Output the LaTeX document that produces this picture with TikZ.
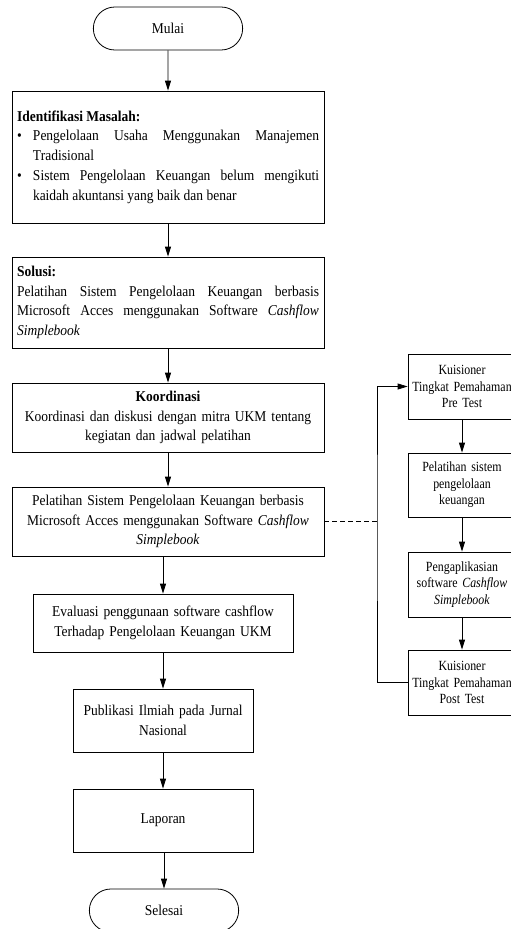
\documentclass[tikz,border=0pt]{standalone}
\usepackage{fontspec}
\setmainfont[FakeStretch=0.9]{Liberation Serif}
\newfontfamily\narrowfont[FakeStretch=0.85]{Liberation Serif}
\usetikzlibrary{arrows.meta,shapes.misc}
\setlength{\parindent}{0pt}
\hyphenpenalty=10000
\exhyphenpenalty=10000

\begin{document}
\begin{tikzpicture}[x=1pt,y=-1pt,
        terminal/.style={rounded rectangle, draw, line width=0.8pt, minimum width=156pt, minimum height=43pt, font=\fontsize{15}{19.7}\selectfont},
        process/.style={rectangle, draw, line width=0.8pt, inner sep=5pt, font=\fontsize{15}{19.7}\selectfont},
        stepbox/.style={rectangle, draw, line width=0.8pt, inner sep=4pt, text width=100pt, align=center, font=\narrowfont\fontsize{14}{16.5}\selectfont},
        arrow/.style={-{Triangle[length=10pt,width=6pt]}, line width=0.8pt},
        loopline/.style={line width=0.8pt, dash pattern=on 5pt off 3pt}
    ]
        \clip (0,0) rectangle (511,929);

        % Main flow
        \node[terminal] (mulai) at (168,28.5) {Mulai};
        \node[process, text width=302pt, minimum height=132pt, align=justify] (masalah) at (168,157)
            {\textbf{Identifikasi Masalah:}\par
             \hangindent=16pt\hangafter=1\makebox[16pt][l]{\textbullet}Pengelolaan Usaha Menggunakan Manajemen Tradisional\par
             \hangindent=16pt\hangafter=1\makebox[16pt][l]{\textbullet}Sistem Pengelolaan Keuangan belum mengikuti kaidah akuntansi yang baik dan benar\par};
        \node[process, text width=302pt, minimum height=91pt, align=justify] (solusi) at (168,302.5)
            {\textbf{Solusi:}\par
             Pelatihan Sistem Pengelolaan Keuangan berbasis Microsoft Acces menggunakan Software \textit{Cashflow Simplebook}};
        \node[process, text width=302pt, minimum height=69pt, align=center] (koordinasi) at (168,417.5)
            {\textbf{Koordinasi}\\ Koordinasi dan diskusi dengan mitra UKM tentang\\ kegiatan dan jadwal pelatihan};
        \node[process, text width=302pt, minimum height=69pt, align=center] (pelatihan) at (168,521.5)
            {Pelatihan Sistem Pengelolaan Keuangan berbasis\\ Microsoft Acces menggunakan Software \textit{Cashflow}\\ \textit{Simplebook}};
        \node[process, text width=250pt, minimum height=58pt, align=center] (evaluasi) at (163,623)
            {Evaluasi penggunaan software cashflow\\ Terhadap Pengelolaan Keuangan UKM};
        \node[process, text width=170pt, minimum height=63pt, align=center] (publikasi) at (163,720.5)
            {Publikasi Ilmiah pada Jurnal\\ Nasional};
        \node[process, text width=170pt, minimum height=63pt, align=center] (laporan) at (163,820.5) {Laporan};
        \node[terminal] (selesai) at (164,910.5) {Selesai};

        \draw[arrow] (mulai) -- (masalah);
        \draw[arrow] (masalah) -- (solusi);
        \draw[arrow] (solusi) -- (koordinasi);
        \draw[arrow] (koordinasi) -- (pelatihan);
        \draw[arrow] (pelatihan.south -| evaluasi.north) -- (evaluasi.north);
        \draw[arrow] (evaluasi) -- (publikasi);
        \draw[arrow] (publikasi) -- (laporan);
        \draw[arrow] (laporan.south) -- (laporan.south -| selesai.north) -- (selesai.north);

        % Pelatihan steps
        \node[stepbox, minimum height=65pt] (pretest) at (462,386.5)
            {Kuisioner\\ Tingkat Pemahaman\\ Pre Test};
        \node[stepbox, minimum height=64pt] (latih) at (462,485)
            {Pelatihan sistem\\ pengelolaan\\ keuangan};
        \node[stepbox, minimum height=65pt] (aplikasi) at (462,584.5)
            {Pengaplikasian\\ software \textit{Cashflow}\\ \textit{Simplebook}};
        \node[stepbox, minimum height=65pt] (posttest) at (462,682.5)
            {Kuisioner\\ Tingkat Pemahaman\\ Post Test};

        \draw[arrow] (pretest) -- (latih);
        \draw[arrow] (latih) -- (aplikasi);
        \draw[arrow] (aplikasi) -- (posttest);

        \coordinate (loop) at (377,521.5);
        \draw[loopline] (pelatihan.east) -- (loop);
        \draw[arrow] (posttest.west) -| (loop) |- (pretest.west);
    \end{tikzpicture}
\end{document}
